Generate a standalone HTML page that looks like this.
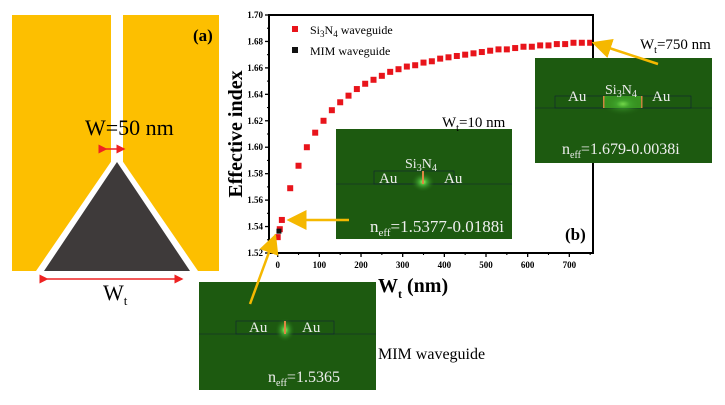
<!DOCTYPE html>
<html><head><meta charset="utf-8"><style>
body{margin:0;background:#fff;width:725px;height:400px;overflow:hidden}
svg text{font-family:"Liberation Serif",serif}
</style></head><body>
<svg width="725" height="400">
<defs>
<radialGradient id="glow" cx="50%" cy="50%" r="50%"><stop offset="0" stop-color="#9f6"/><stop offset="0.3" stop-color="#4a3"/><stop offset="1" stop-color="#1d5a10" stop-opacity="0"/></radialGradient>
<marker id="ah" markerWidth="8" markerHeight="8" refX="7" refY="4" orient="auto"><path d="M0,0L8,4L0,8z" fill="#f5b800"/></marker>
<marker id="ra" markerWidth="6" markerHeight="6" refX="5" refY="3" orient="auto"><path d="M0,0L6,3L0,6z" fill="#e22"/></marker>
</defs>
<!-- panel a -->
<g>
<rect x="12" y="15" width="207" height="256" fill="#fdbf00"/>
<rect x="111" y="15" width="12" height="150" fill="#fff"/>
<polygon points="117,153 36,271 198,271" fill="#fff"/>
<polygon points="117,162 44,271 190,271" fill="#3e3a3a"/>
<line x1="47" y1="279" x2="182" y2="279" stroke="#e22" stroke-width="1.5" marker-end="url(#ra)" marker-start="url(#ra)"/>
<line x1="106" y1="149" x2="124" y2="149" stroke="#e22" stroke-width="1.5" marker-end="url(#ra)" marker-start="url(#ra)"/>
<text x="85" y="135" font-size="22">W=50 nm</text>
<text x="103" y="300" font-size="22">W<tspan font-size="13" dy="5">t</tspan></text>
<text x="193" y="41" font-size="17" font-weight="bold">(a)</text>
</g>
<g id="chart"></g>
<!-- insets -->
<g>
<rect x="336" y="129" width="176" height="110" fill="#1d5a10"/>
<rect x="374" y="171" width="80" height="13" fill="none" stroke="#123" stroke-width="0.6"/>
<line x1="336" y1="184" x2="512" y2="184" stroke="#123" stroke-width="0.6"/>
<ellipse cx="423" cy="182" rx="12" ry="10" fill="url(#glow)"/>
<rect x="422" y="171" width="2" height="13" fill="#d84"/>
<text x="379" y="183" font-size="15" fill="#eee">Au</text><text x="444" y="183" font-size="15" fill="#eee">Au</text>
<text x="405" y="168" font-size="14" fill="#eee">Si<tspan font-size="10" dy="3">3</tspan><tspan dy="-3">N</tspan><tspan font-size="10" dy="3">4</tspan></text>
<text x="370" y="232" font-size="17" fill="#eee">n<tspan font-size="11" dy="4">eff</tspan><tspan dy="-4">=1.5377-0.0188i</tspan></text>
<text x="442" y="127" font-size="15">W<tspan font-size="10" dy="4">t</tspan><tspan dy="-4">=10 nm</tspan></text>
</g>
<g>
<rect x="535" y="58" width="177" height="105" fill="#1d5a10"/>
<rect x="555" y="96" width="136" height="12" fill="none" stroke="#123" stroke-width="0.6"/>
<line x1="535" y1="108" x2="712" y2="108" stroke="#123" stroke-width="0.6"/>
<rect x="604" y="96" width="38" height="12" fill="#3a9a20"/>
<rect x="603" y="96" width="1.5" height="12" fill="#d84"/><rect x="641" y="96" width="1.5" height="12" fill="#d84"/>
<ellipse cx="623" cy="104" rx="22" ry="12" fill="url(#glow)" opacity="0.6"/>
<text x="568" y="101" font-size="15" fill="#eee">Au</text><text x="652" y="101" font-size="15" fill="#eee">Au</text>
<text x="605" y="94" font-size="14" fill="#eee">Si<tspan font-size="10" dy="3">3</tspan><tspan dy="-3">N</tspan><tspan font-size="10" dy="3">4</tspan></text>
<text x="562" y="154" font-size="16" fill="#eee">n<tspan font-size="10" dy="4">eff</tspan><tspan dy="-4">=1.679-0.0038i</tspan></text>
<text x="640" y="49" font-size="15">W<tspan font-size="10" dy="4">t</tspan><tspan dy="-4">=750 nm</tspan></text>
</g>
<g>
<rect x="199" y="282" width="177" height="108" fill="#1d5a10"/>
<rect x="236" y="321" width="98" height="13" fill="none" stroke="#123" stroke-width="0.6"/>
<line x1="199" y1="334" x2="376" y2="334" stroke="#123" stroke-width="0.6"/>
<ellipse cx="285" cy="330" rx="10" ry="12" fill="url(#glow)"/>
<rect x="284" y="321" width="2" height="13" fill="#d84"/>
<text x="249" y="332" font-size="15" fill="#eee">Au</text><text x="302" y="332" font-size="15" fill="#eee">Au</text>
<text x="268" y="382" font-size="16" fill="#eee">n<tspan font-size="10" dy="4">eff</tspan><tspan dy="-4">=1.5365</tspan></text>
<text x="378" y="359" font-size="16">MIM waveguide</text>
</g>
<g stroke="#f5b800" stroke-width="2.5">
<line x1="658" y1="64" x2="594" y2="43" marker-end="url(#ah)"/>
<line x1="349" y1="220" x2="289" y2="220" marker-end="url(#ah)"/>
<line x1="250" y1="304" x2="275" y2="236" marker-end="url(#ah)"/>
</g>
</svg>
<script>
const xValues=[0,5,10,30,50,70,90,110,130,150,170,190,210,230,250,270,290,310,330,350,370,390,410,430,450,470,490,510,530,550,570,590,610,630,650,670,690,710,730,750];
const si3n4Values=[1.532,1.538,1.545,1.569,1.586,1.600,1.611,1.620,1.628,1.634,1.639,1.644,1.648,1.651,1.654,1.657,1.659,1.661,1.662,1.664,1.665,1.667,1.668,1.669,1.670,1.671,1.672,1.673,1.674,1.674,1.675,1.676,1.676,1.677,1.677,1.678,1.678,1.679,1.679,1.679];
const mimX=[3];
const mimValues=[1.5365];
const xTicks=[0,100,200,300,400,500,600,700];
const yTicks=[1.52,1.54,1.56,1.58,1.60,1.62,1.64,1.66,1.68,1.70];
const NS='http://www.w3.org/2000/svg';
const g=document.getElementById('chart');
const L=269,R=593,T=15,B=253;
const X=v=>277.7+v*0.4166;
const Y=v=>B-(v-1.52)/0.18*(B-T);
function mk(t,a,p){const e=document.createElementNS(NS,t);for(const k in a)e.setAttribute(k,a[k]);(p||g).appendChild(e);return e;}
// bars/points
xValues.forEach((x,i)=>{
 const r=mk('rect',{x:X(x)-3,y:Y(si3n4Values[i])-3,width:6,height:6,fill:'#e8141b'});
 
 
});
mimX.forEach((x,i)=>{
 const r=mk('rect',{x:X(x)-2.5,y:Y(mimValues[i])-2.5,width:5,height:5,fill:'#111'});
 
 
});
const fr=mk('rect',{x:L,y:T,width:R-L,height:B-T,fill:'none',stroke:'#000','stroke-width':2});


xTicks.forEach(v=>{
 mk('line',{x1:X(v),x2:X(v),y1:B,y2:B+4,stroke:'#000','stroke-width':1.3});
 mk('line',{x1:X(v+50),x2:X(v+50),y1:B,y2:B+2,stroke:'#000','stroke-width':1.1});
 const t=mk('text',{x:X(v),y:B+15,'font-size':9,'font-weight':'bold','text-anchor':'middle'});t.textContent=v;
 
 
});
yTicks.forEach(v=>{
 mk('line',{x1:L-4,x2:L,y1:Y(v),y2:Y(v),stroke:'#000','stroke-width':1.3});
 if(v<1.7)mk('line',{x1:L-2,x2:L,y1:Y(v+0.01),y2:Y(v+0.01),stroke:'#000','stroke-width':1.1});
 const t=mk('text',{x:L-6,y:Y(v)+3,'font-size':9,'font-weight':'bold','text-anchor':'end'});t.textContent=v.toFixed(2);
 
 
});
const xt=mk('text',{x:378,y:292,'font-size':20,'font-weight':'bold'});
xt.innerHTML='W<tspan font-size="12" dy="6">t</tspan><tspan dy="-6"> (nm)</tspan>';


const yt=mk('text',{x:0,y:0,'font-size':20,'font-weight':'bold','text-anchor':'middle',transform:'translate(242,134) rotate(-90)'});
yt.textContent='Effective index';


const lg=mk('g',{});


mk('rect',{x:292,y:26,width:6,height:6,fill:'#e8141b'},lg);
const l1=mk('text',{x:310,y:34,'font-size':12},lg);l1.innerHTML='Si<tspan font-size="9" dy="3">3</tspan><tspan dy="-3">N</tspan><tspan font-size="9" dy="3">4</tspan><tspan dy="-3"> waveguide</tspan>';
mk('rect',{x:292,y:47,width:6,height:6,fill:'#111'},lg);
const l2=mk('text',{x:310,y:55,'font-size':12},lg);l2.textContent='MIM waveguide';
const pb=mk('text',{x:565,y:240,'font-size':17,'font-weight':'bold'});pb.textContent='(b)';


// keep insets above chart
const svg=g.parentNode;svg.insertBefore(g,svg.children[3]);
</script>
</body></html>
